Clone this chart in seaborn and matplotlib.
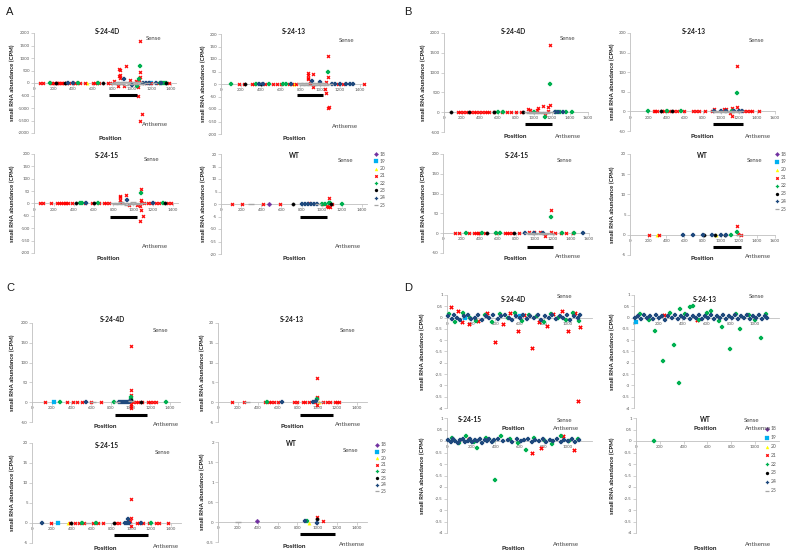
import matplotlib
matplotlib.use('Agg')
import matplotlib.pyplot as plt
import matplotlib.transforms as mtransforms
from matplotlib.lines import Line2D
from matplotlib.ticker import FuncFormatter, FixedLocator
import seaborn as sns
import pandas as pd

# ---------------- data ----------------
sizes = [18, 19, 20, 21, 22, 23, 24, 25]
size_colors = ['#7030A0', '#00B0F0', '#FFFF00', '#FF0000', '#00B050', '#000000', '#1F497D', '#A6A6A6']
size_markers = ['D', 's', '^', 'X', 'P', 'o', 'P', '_']

titles = ['S-24-4D', 'S-24-13', 'S-24-15', 'WT']

# (size, position, CPM)
A1 = [(21,60,0),(21,90,0),(21,170,0),(21,185,0),(21,200,0),(21,230,0),(21,245,0),(21,260,0),(21,275,0),(21,290,0),
      (21,305,0),(21,340,0),(21,360,0),(21,400,0),(21,420,0),(21,440,0),(21,465,0),(21,520,0),(21,600,0),(21,620,0),
      (21,640,0),(21,660,0),(21,760,0),(21,780,0),(21,1120,0),(21,1160,0),(21,1200,0),(21,1270,0),(21,1380,0),
      (22,160,0),(22,450,0),(22,650,0),(22,1290,0),(22,1310,0),(22,1330,0),(22,1350,0),
      (23,220,0),(23,315,0),(23,700,0),(23,1345,0),
      (24,345,0),(24,395,0),(24,1110,0),(24,1140,0),(24,1180,0),(24,1250,0),(24,1300,0),
      (20,540,0),(19,1200,0),
      (25,800,20),(25,820,-30),(25,840,40),(25,860,-50),(25,880,60),(25,900,-40),(25,920,50),(25,940,-60),(25,960,40),
      (25,980,-50),(25,1000,60),(25,1020,-40),(25,1040,50),(25,1060,-30),(25,1080,40),(25,1100,-20),(25,1150,0),(25,1230,0),
      (21,820,80),(21,860,-100),(21,870,550),(21,880,520),(21,870,300),(21,880,330),(21,880,200),(21,920,-130),(21,940,670),
      (21,980,140),(21,1040,100),(21,1060,-150),(21,1060,-500),(21,1070,120),(21,1080,1700),(21,1080,450),(21,1080,250),
      (21,1080,-1500),(21,1100,-1250),(22,1080,700),(22,1075,150),(22,1050,-100),(24,920,150),(24,1000,-60)]
A2 = [(22,100,0),(21,180,0),(21,230,0),(23,245,0),(21,310,0),(21,330,0),(22,350,0),(24,380,0),(23,400,0),(24,420,0),
      (21,440,0),(22,480,0),(21,520,0),(21,560,0),(21,600,0),(22,620,0),(22,650,0),(21,680,0),(24,700,0),(21,720,0),
      (20,740,0),(21,760,0),
      (25,800,3),(25,820,-3),(25,840,4),(25,860,-4),(25,880,5),(25,900,-4),(25,920,4),(25,940,-5),(25,960,4),(25,980,-4),
      (25,1000,5),(25,1020,-3),(25,1040,4),(25,1060,-3),(25,1100,2),
      (24,1120,0),(24,1150,0),(21,1180,0),(24,1200,0),(21,1230,0),(24,1260,0),(24,1300,0),(24,1330,0),(21,1440,0),
      (21,880,45),(21,880,35),(21,880,25),(21,880,20),(21,930,42),(24,920,12),(21,900,5),(21,930,-10),(21,1080,113),
      (22,1080,47),(21,1080,27),(21,1060,10),(21,1050,-20),(21,1060,-35),(21,1075,-95),(21,1090,-90),(24,1000,8)]
A3 = [(21,60,0),(21,90,0),(21,170,0),(21,230,0),(21,250,0),(21,270,0),(21,290,0),(21,310,0),(21,325,0),(21,340,0),
      (21,380,0),(23,420,0),(22,460,0),(22,480,0),(21,510,0),(24,520,0),(21,580,0),(23,600,0),(22,640,0),(21,650,0),
      (21,700,0),(21,730,0),(21,760,0),
      (25,800,3),(25,820,-4),(25,840,4),(25,860,-4),(25,880,5),(25,900,-4),(25,920,4),(25,940,-5),(25,960,4),(25,980,-4),
      (25,1000,5),(25,1020,-3),(25,1040,4),(25,1060,-3),(25,1100,2),
      (21,1110,0),(21,1150,0),(21,1180,0),(24,1200,0),(21,1230,0),(21,1260,0),(22,1300,0),(23,1320,0),(21,1350,0),(21,1380,0),
      (21,870,30),(21,870,25),(21,870,15),(21,870,7),(21,930,33),(24,940,15),(21,1080,60),(22,1080,43),(21,1080,15),
      (21,1080,8),(21,1070,-10),(21,1080,-25),(21,1070,-70),(21,1100,-50),(21,1040,-5),(21,960,-5)]
A4 = [(21,110,0),(21,210,0),(25,300,0),(21,420,0),(18,480,0),(21,590,0),(23,710,0),(24,800,0),(24,830,0),(24,860,0),
      (24,890,0),(24,920,0),(24,950,0),(25,960,0),(22,1000,0),(22,1030,0),(23,1090,0),(21,1100,0),(22,1200,0),
      (21,870,0.5),(21,1000,0.2),(21,1070,2.3),(22,1070,0.5),(22,1080,0.3),(21,1050,-0.8),(21,1060,-1.0),(21,1080,-1.3)]

B1 = [(23,80,0),(21,150,0),(21,180,0),(21,210,0),(21,240,0),(23,280,0),(21,300,0),(21,330,0),(21,360,0),(21,390,0),
      (21,420,0),(21,450,0),(21,480,0),(21,500,0),(23,550,0),(21,560,0),(22,600,0),(21,640,0),(22,660,0),(21,700,0),
      (21,740,0),(21,800,0),(21,850,0),(23,880,0),
      (25,920,10),(25,940,-10),(25,960,15),(25,980,-15),(25,1000,15),(25,1020,-10),(25,1040,15),(25,1060,-15),
      (25,1080,10),(25,1100,-10),(25,1120,15),(25,1140,-10),(25,1160,10),(25,1190,0),
      (22,1000,0),(24,1230,0),(22,1240,0),(24,1270,0),(22,1290,0),(24,1320,0),(22,1360,0),(22,1420,0),
      (21,1180,1700),(22,1180,700),(21,1180,180),(21,1150,130),(21,1100,150),(21,1040,100),(21,1030,60),(21,930,90),
      (21,950,60),(21,1150,40),(21,1120,-60),(22,1120,-120)]
B2 = [(22,200,0),(21,260,0),(21,280,0),(21,300,0),(23,340,0),(21,350,0),(21,370,0),(22,410,0),(21,430,0),(23,460,0),
      (21,480,0),(21,520,0),(22,560,0),(21,600,0),(21,700,0),(21,730,0),(21,760,0),(21,830,0),(21,900,0),
      (25,920,1),(25,950,-1),(25,980,1.5),(25,1010,-1),(25,1040,1.5),(25,1070,-1),(25,1100,1),(25,1130,-1.5),
      (25,1160,1),(25,1190,-1),(25,1220,1),
      (24,930,0),(24,1000,0),(24,1060,0),(22,1120,0),(24,1150,0),(24,1200,0),(24,1240,0),
      (21,1260,0),(21,1290,0),(21,1320,0),(21,1350,0),(21,1420,0),
      (21,1180,115),(22,1180,48),(21,1180,10),(21,1130,8),(21,1060,6),(21,1040,5),(21,930,5),(21,1100,-5),(21,1120,-12)]
B3 = [(21,130,0),(21,180,0),(22,250,0),(21,280,0),(21,340,0),(21,360,0),(21,380,0),(21,400,0),(22,430,0),(21,460,0),
      (23,480,0),(21,580,0),(22,580,0),(22,630,0),(21,680,0),(21,700,0),(21,720,0),(21,760,0),(23,780,0),(21,830,0),
      (24,900,0),
      (25,920,1),(25,950,-1),(25,980,1.5),(25,1010,-1),(25,1040,1.5),(25,1070,-1),(25,1100,1),(25,1130,-1.5),
      (25,1160,1),(25,1190,-1),
      (24,1000,0),(24,1100,0),(21,1230,0),(21,1290,0),(22,1300,0),(21,1350,0),(21,1430,0),(22,1440,0),(24,1530,0),
      (21,1180,58),(22,1180,42),(21,1180,4),(21,1120,-8),(21,1060,4),(21,1000,3),(21,940,4)]
B4 = [(21,210,0),(20,300,0),(21,320,0),(24,590,0),(24,690,0),(24,810,0),(23,820,0),(24,900,0),(23,940,0),(20,950,0),
      (24,1000,0),(23,1050,0),(24,1060,0),(22,1110,0),(25,1200,0),(21,1230,0),
      (21,1180,2.2),(22,1180,0.6),(21,1190,0.3)]

C1 = [(21,130,0),(19,220,0),(22,280,0),(21,350,0),(21,420,0),(21,460,0),(21,510,0),(24,550,0),(21,600,0),(25,620,0),
      (21,700,0),(22,830,0),(25,860,0),(24,880,0),(24,900,0),(24,920,0),(24,940,0),(24,960,0),(24,980,0),
      (21,1020,0),(21,1050,0),(21,1080,0),(23,1110,0),(21,1120,0),(21,1180,0),(21,1200,0),(21,1230,0),(21,1260,0),(22,1360,0),
      (21,1000,142),(21,1000,30),(21,1000,18),(22,1000,12),(22,1000,8),(23,1000,5),(24,990,3),(25,1000,2),
      (21,1000,-5),(21,1000,-10),(21,1000,-15)]
C2 = [(21,140,0),(21,260,0),(25,290,0),(21,470,0),(22,490,0),(21,510,0),(21,530,0),(21,560,0),(21,600,0),(24,640,0),
      (21,770,0),(21,800,0),(21,860,0),(21,880,0),(21,920,0),(24,960,0),(21,980,0),(20,1020,0),(25,1030,0),(21,1060,0),
      (21,1100,0),(21,1130,0),(21,1180,0),(21,1200,0),(21,1220,0),
      (21,1000,6.2),(21,1000,1.3),(21,1000,1.0),(22,1000,0.7),(24,990,0.3),(21,1000,-0.8)]
C3 = [(24,100,0),(21,190,0),(19,260,0),(20,360,0),(21,380,0),(23,390,0),(21,430,0),(21,470,0),(22,500,0),(21,520,0),
      (25,560,0),(21,610,0),(22,640,0),(21,660,0),(21,720,0),(23,830,0),(21,850,0),(21,880,0),
      (24,940,0),(24,960,0),(24,980,0),(21,1060,0),(21,1080,0),(24,1100,0),(21,1120,0),(21,1180,0),(22,1200,0),
      (21,1250,0),(21,1280,0),(21,1370,0),
      (21,1000,6.0),(21,1000,1.2),(24,970,1.0),(21,990,0.5),(21,1000,-0.8)]
C4 = [(25,200,0),(18,390,0.02),(24,880,0.02),(22,900,0.02),(20,920,-0.02),(23,1000,0.08),(24,1000,-0.03),
      (21,1000,0.12),(21,1060,0.03)]

D1 = [(24,10,0.05),(24,40,-0.05),(24,60,0.1),(24,80,0.0),(24,110,-0.1),(24,140,0.05),(24,170,0.1),(24,200,-0.05),
      (24,230,0.0),(24,260,0.1),(24,290,-0.1),(24,320,0.05),(24,350,0.0),(24,380,0.1),(24,420,-0.05),(24,450,0.05),
      (24,480,0.1),(24,510,0.0),(24,540,-0.1),(24,570,0.05),(24,600,0.0),(24,630,0.1),(24,660,-0.05),(24,690,0.05),
      (24,720,0.0),(24,750,0.1),(24,780,-0.1),(24,810,0.05),(24,840,0.0),(24,870,0.1),(24,900,-0.05),(24,930,0.05),
      (24,960,0.0),(24,990,0.1),(24,1020,-0.1),(24,1050,0.05),(24,1080,0.0),(24,1100,0.1),
      (22,20,0.15),(22,70,-0.2),(22,130,0.2),(22,190,0.0),(22,240,-0.15),(22,310,0.1),(22,370,-0.2),(22,440,0.15),
      (22,500,0.0),(22,560,0.2),(22,620,-0.15),(22,680,0.1),(22,740,0.05),(22,800,-0.2),(22,860,0.15),(22,920,0.0),
      (22,980,-0.1),(22,1040,0.2),(22,1090,-0.15),
      (21,30,0.45),(21,90,0.3),(21,120,-0.2),(21,180,-0.3),(21,260,-0.15),(21,330,0.2),(21,400,-1.1),(21,460,-0.3),
      (21,520,0.2),(21,590,-0.6),(21,640,0.1),(21,700,-1.35),(21,760,-0.2),(21,830,-0.35),(21,880,0.15),(21,950,0.3),
      (21,1000,-0.6),(21,1060,0.2),(21,1080,-3.7),(21,1100,-0.4),
      (19,150,0.0),(19,600,0.05)]
D2 = [(24,10,0.0),(24,35,0.05),(24,60,-0.05),(24,85,0.1),(24,110,0.0),(24,135,0.05),(24,160,-0.05),(24,185,0.1),
      (24,210,0.0),(24,235,0.05),(24,260,-0.1),(24,285,0.05),(24,310,0.0),(24,335,0.1),(24,360,-0.05),(24,385,0.05),
      (24,410,0.0),(24,435,0.1),(24,460,-0.05),(24,485,0.05),(24,510,0.0),(24,535,0.1),(24,560,-0.05),(24,585,0.05),
      (24,610,0.0),(24,635,0.1),(24,660,-0.05),(24,685,0.05),(24,710,0.0),(24,735,0.1),(24,760,-0.05),(24,785,0.05),
      (24,810,0.0),(24,835,0.1),(24,860,-0.05),(24,885,0.05),(24,910,0.0),(24,935,0.1),(24,960,-0.05),(24,985,0.05),
      (24,1010,0.0),(24,1035,0.1),(24,1060,-0.05),(24,1085,0.05),(24,1100,0.0),
      (22,50,0.15),(22,120,-0.1),(22,170,-0.6),(22,240,-1.9),(22,300,0.2),(22,330,-1.2),(22,370,-2.9),(22,380,0.4),
      (22,420,0.15),(22,460,0.45),(22,490,0.5),(22,540,-0.1),(22,600,0.2),(22,640,0.3),(22,700,-0.15),(22,730,-0.4),
      (22,790,-1.4),(22,840,0.15),(22,880,-0.5),(22,950,0.1),(22,1000,-0.1),(22,1050,-0.9),(22,1090,0.15),
      (21,250,0.1),(21,520,-0.1),(19,20,-0.2)]
D3 = [(24,10,0.05),(24,30,-0.05),(24,50,0.1),(24,70,0.0),(24,90,-0.1),(24,110,0.05),(24,130,0.1),(24,150,-0.05),
      (24,170,0.0),(24,190,0.1),(24,210,-0.05),(24,230,0.05),(24,250,0.0),(24,270,0.1),(24,290,-0.1),(24,310,0.05),
      (24,330,0.0),(24,350,0.1),(24,370,-0.05),(24,390,0.05),(24,420,0.1),(24,460,0.0),(24,500,0.05),(24,540,-0.05),
      (24,580,0.1),(24,610,0.0),(24,640,0.05),(24,670,0.1),(24,700,-0.05),(24,730,0.05),(24,760,0.0),(24,790,0.1),
      (24,820,-0.05),(24,850,0.05),(24,880,0.0),(24,910,0.1),(24,940,-0.05),(24,970,0.05),(24,1000,0.0),
      (24,1030,0.1),(24,1060,-0.05),(24,1090,0.05),
      (22,40,0.15),(22,100,-0.1),(22,160,0.2),(22,220,-0.05),(22,250,-0.3),(22,320,0.15),(22,380,0.0),(22,400,-1.7),
      (22,450,0.2),(22,520,0.1),(22,590,-0.1),(22,650,-0.4),(22,720,0.15),(22,800,0.05),(22,870,-0.15),(22,940,0.2),
      (22,1010,0.0),(22,1080,0.1),
      (21,180,0.1),(21,700,-0.5),(21,780,-0.3),(21,960,0.2),(21,1050,-0.4)]
D4 = [(22,150,0.0)]

# axis ticks (tick labels)
xticks_1400 = [0, 200, 400, 600, 800, 1000, 1200, 1400]
xticks_1600 = [0, 200, 400, 600, 800, 1000, 1200, 1400, 1600]
xticks_1000 = [0, 200, 400, 600, 800, 1000]
yt_2000 = [-2000, -1500, -1000, -500, 0, 500, 1000, 1500, 2000]
yt_200 = [-200, -150, -100, -50, 0, 50, 100, 150, 200]
yt_20 = [-20, -15, -10, -5, 0, 5, 10, 15, 20]
yt_b2000 = [-500, 0, 500, 1000, 1500, 2000]
yt_b200 = [-50, 0, 50, 100, 150, 200]
yt_b20 = [-5, 0, 5, 10, 15, 20]
yt_c2 = [-0.5, 0, 0.5, 1, 1.5, 2]
yt_d = [-4, -3.5, -3, -2.5, -2, -1.5, -1, -0.5, 0, 0.5, 1]

# region of the target (black bar under the axis): start, end
A_bar = [(770, 1050), (770, 1030), (765, 1037), (785, 1052)]
B_bar = [(900, 1200), (916, 1247), (920, 1205), (916, 1225)]
C_bar = [(842, 1166), (826, 1158), (822, 1166), (826, 1178)]

# ---------------- style ----------------
sns.set_theme(style='white')
plt.rcParams['font.family'] = ['Lato', 'DejaVu Sans']

W, H = 799, 552
fig = plt.figure(figsize=(W / 100, H / 100), dpi=100)

def fx(x):
    return x / W

def fy(y):
    return 1 - y / H

AXIS_C = '#BFBFBF'
TXT_C = '#595959'

def fmt(v, pos=None):
    return '{:g}'.format(v)

def draw(pts, title, xticks, yticks, bar, lay):
    x0, xref, xrefpx, xmax, ytop, ybot = lay['ax']
    scale = (xrefpx - x0) / xref
    right = x0 + xmax * scale
    ax = fig.add_axes([fx(x0), fy(ybot), (right - x0) / W, (ybot - ytop) / H])
    df = pd.DataFrame(pts, columns=['size', 'position', 'cpm'])
    for sz, col, mk in zip(sizes, size_colors, size_markers):
        sub = df[df['size'] == sz]
        if sub.empty:
            continue
        if mk == '_':
            sns.scatterplot(data=sub, x='position', y='cpm', ax=ax, marker=mk, color=col,
                            edgecolor=col, linewidth=1.0, s=14, legend=False, zorder=3, clip_on=False)
        else:
            sns.scatterplot(data=sub, x='position', y='cpm', ax=ax, marker=mk, color=col,
                            edgecolor=col, linewidth=0.2, s=lay.get('ms', 6), legend=False, zorder=3,
                            clip_on=False)
    ax.set_xlim(0, xmax)
    ax.set_ylim(min(yticks), max(yticks))
    ax.xaxis.set_major_locator(FixedLocator(xticks))
    ax.yaxis.set_major_locator(FixedLocator(yticks))
    ax.xaxis.set_major_formatter(FuncFormatter(fmt))
    ax.yaxis.set_major_formatter(FuncFormatter(fmt))
    ax.set_xlabel('')
    ax.set_ylabel('')
    ax.patch.set_alpha(0)
    for s in ['top', 'right']:
        ax.spines[s].set_visible(False)
    ax.spines['bottom'].set_position(('data', 0))
    for s in ['left', 'bottom']:
        ax.spines[s].set_color(AXIS_C)
        ax.spines[s].set_linewidth(0.6)
        ax.spines[s].set_zorder(1)
    ax.tick_params(axis='both', which='major', bottom=True, left=True, length=2, width=0.5,
                   color=AXIS_C, labelsize=3.2, labelcolor=TXT_C, pad=1)
    if bar is not None:
        tr = mtransforms.blended_transform_factory(ax.transData, ax.transAxes)
        ax.plot([bar[0], bar[1]], [lay['bary'], lay['bary']], transform=tr, color='black',
                lw=2.2, solid_capstyle='butt', clip_on=False, zorder=4)
    # texts
    tx, ty = lay['title']
    fig.text(fx(tx), fy(ty), title, ha='center', va='center', fontsize=4.8, fontweight='bold', color='#1a1a1a')
    sx, sy = lay['sense']
    fig.text(fx(sx), fy(sy), 'Sense', ha='center', va='center', fontsize=4.3, color='#404040')
    asx, asy = lay['anti']
    fig.text(fx(asx), fy(asy), 'Antisense', ha='center', va='center', fontsize=4.3, color='#404040')
    px, py = lay['pos']
    fig.text(fx(px), fy(py), 'Position', ha='center', va='center', fontsize=4.6, fontweight='bold', color='#1a1a1a')
    fig.text(fx(lay['ylab']), fy((ytop + ybot) / 2), 'small RNA abundance (CPM)', ha='center', va='center',
             rotation=90, fontsize=4.3, fontweight='bold', color='#1a1a1a')
    return ax

def legend(xm, y0, step):
    for i, (sz, col, mk) in enumerate(zip(sizes, size_colors, size_markers)):
        yy = y0 + i * step
        if mk == '_':
            ln = Line2D([fx(xm)], [fy(yy)], marker=mk, color=col, markersize=2.6, mew=0.9, ls='none',
                        transform=fig.transFigure)
        else:
            ln = Line2D([fx(xm)], [fy(yy)], marker=mk, color=col, markersize=2.2, mew=0.2, ls='none',
                        transform=fig.transFigure)
        fig.add_artist(ln)
        fig.text(fx(xm + 4), fy(yy), str(sz), ha='left', va='center', fontsize=3.6, color=TXT_C)

layouts = {
    'A1': dict(ax=(34, 1400, 171, 1450, 33, 133), bary=0.38, title=(107, 32), sense=(154, 39), anti=(155, 124), pos=(110, 138), ylab=12),
    'A2': dict(ax=(221, 1400, 360, 1450, 34, 134), bary=0.39, title=(294, 32), sense=(347, 41), anti=(345, 127), pos=(294, 139), ylab=203),
    'A3': dict(ax=(34, 1400, 173, 1450, 154, 253), bary=0.364, title=(107, 155), sense=(152, 159), anti=(155, 247), pos=(108, 259), ylab=12),
    'A4': dict(ax=(221, 1400, 362, 1450, 154, 254), bary=0.37, title=(294, 156), sense=(346, 160), anti=(348, 247), pos=(294, 259), ylab=203),
    'B1': dict(ax=(444, 1600, 588, 1600, 33, 132), bary=0.08, title=(513, 31), sense=(568, 38), anti=(568, 137), pos=(515, 137), ylab=423),
    'B2': dict(ax=(630, 1600, 775, 1600, 33, 131), bary=0.07, title=(694, 32), sense=(757, 41), anti=(758, 136), pos=(702, 137), ylab=612),
    'B3': dict(ax=(443, 1600, 589, 1600, 154, 253), bary=0.06, title=(517, 155), sense=(565, 160), anti=(568, 256), pos=(515, 258), ylab=423),
    'B4': dict(ax=(630, 1600, 775, 1600, 154, 255), bary=0.08, title=(702, 156), sense=(755, 160), anti=(758, 256), pos=(702, 258), ylab=612),
    'C1': dict(ax=(32, 1400, 170, 1500, 323, 422), bary=0.07, title=(112, 319), sense=(161, 330), anti=(166, 425), pos=(105, 427), ylab=12),
    'C2': dict(ax=(218, 1400, 357, 1500, 323, 422), bary=0.07, title=(292, 320), sense=(348, 331), anti=(348, 425), pos=(292, 427), ylab=202),
    'C3': dict(ax=(32, 1400, 171, 1500, 443, 543), bary=0.08, title=(107, 445), sense=(163, 452), anti=(166, 547), pos=(105, 548), ylab=12),
    'C4': dict(ax=(218, 1400, 357, 1500, 442, 542), bary=0.08, title=(291, 444), sense=(351, 450), anti=(352, 545), pos=(294, 547), ylab=202),
    'D1': dict(ax=(447, 1000, 568, 1200, 295, 408), title=(513, 300), sense=(565, 297), anti=(566, 428), pos=(513, 428), ylab=422, ms=8),
    'D2': dict(ax=(634, 1000, 755, 1200, 295, 408), title=(705, 300), sense=(757, 296), anti=(758, 428), pos=(705, 428), ylab=612, ms=8),
    'D3': dict(ax=(447, 1000, 568, 1200, 418, 533), title=(470, 420), sense=(565, 421), anti=(566, 545), pos=(513, 548), ylab=422, ms=8),
    'D4': dict(ax=(636, 1000, 755, 1200, 418, 533), title=(705, 420), sense=(752, 421), anti=(758, 545), pos=(705, 548), ylab=612, ms=8),
}

draw(A1, titles[0], xticks_1400, yt_2000, A_bar[0], layouts['A1'])
draw(A2, titles[1], xticks_1400, yt_200, A_bar[1], layouts['A2'])
draw(A3, titles[2], xticks_1400, yt_200, A_bar[2], layouts['A3'])
draw(A4, titles[3], xticks_1400, yt_20, A_bar[3], layouts['A4'])
draw(B1, titles[0], xticks_1600, yt_b2000, B_bar[0], layouts['B1'])
draw(B2, titles[1], xticks_1600, yt_b200, B_bar[1], layouts['B2'])
draw(B3, titles[2], xticks_1600, yt_b200, B_bar[2], layouts['B3'])
draw(B4, titles[3], xticks_1600, yt_b20, B_bar[3], layouts['B4'])
draw(C1, titles[0], xticks_1400, yt_b200, C_bar[0], layouts['C1'])
draw(C2, titles[1], xticks_1400, yt_b20, C_bar[1], layouts['C2'])
draw(C3, titles[2], xticks_1400, yt_b20, C_bar[2], layouts['C3'])
draw(C4, titles[3], xticks_1400, yt_c2, C_bar[3], layouts['C4'])
draw(D1, titles[0], xticks_1000, yt_d, None, layouts['D1'])
draw(D2, titles[1], xticks_1000, yt_d, None, layouts['D2'])
draw(D3, titles[2], xticks_1000, yt_d, None, layouts['D3'])
draw(D4, titles[3], xticks_1000, yt_d, None, layouts['D4'])

legend(376, 154, 7.3)
legend(777, 154, 7.9)
legend(377, 445, 6.6)
legend(767, 429, 8.8)

for lab, (x, y) in zip(['A', 'B', 'C', 'D'], [(10, 12), (408, 12), (10, 288), (408, 288)]):
    fig.text(fx(x), fy(y), lab, ha='center', va='center', fontsize=8, family='Liberation Sans', color='#1a1a1a')

fig.savefig('out.png', dpi=100)
